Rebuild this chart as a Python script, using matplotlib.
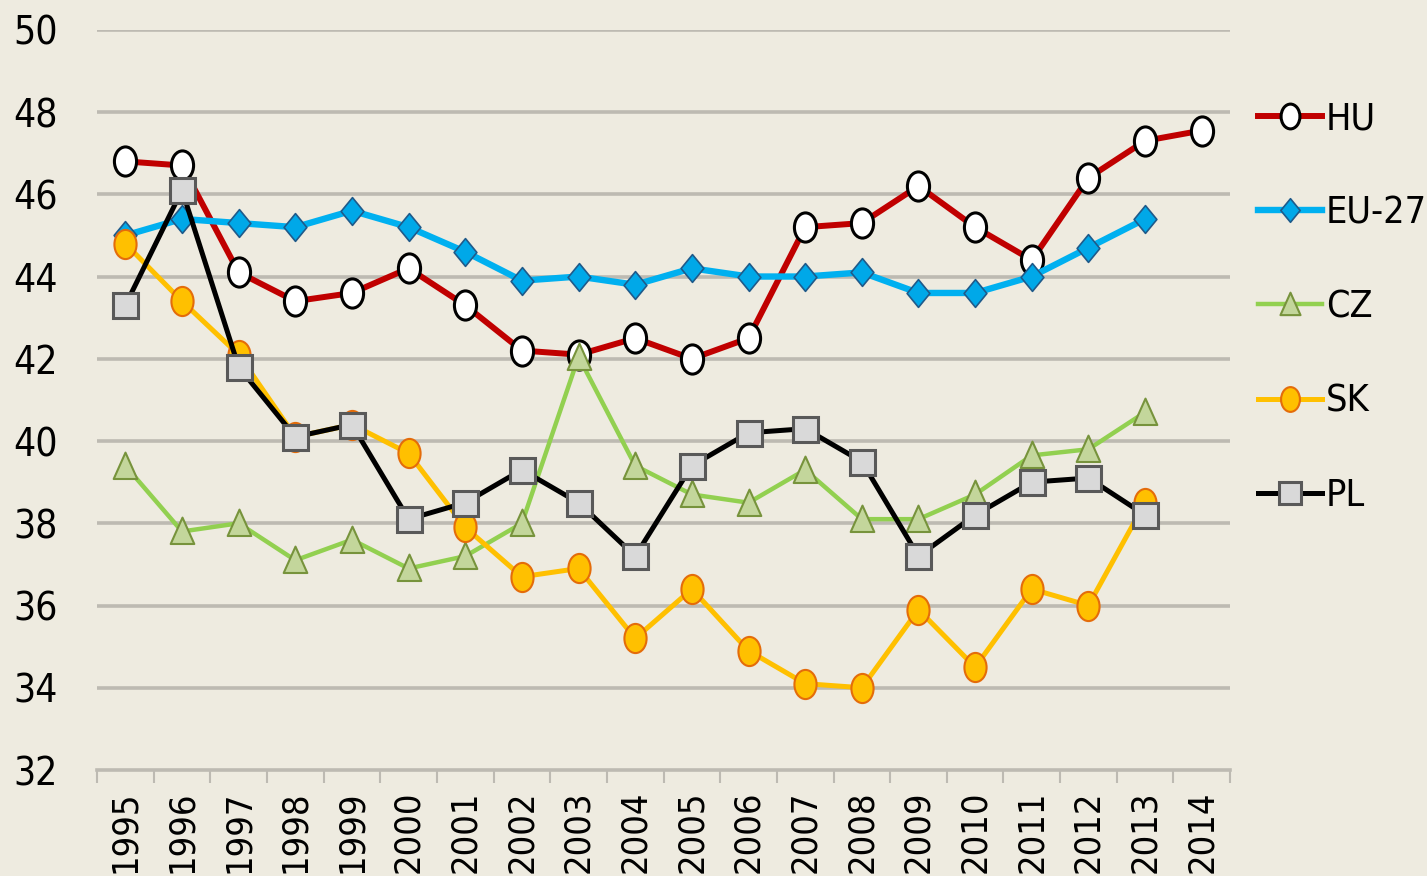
import matplotlib
matplotlib.use("Agg")
import matplotlib.pyplot as plt
from matplotlib.path import Path
from matplotlib.transforms import Affine2D
from matplotlib.ticker import FixedLocator

years = [str(y) for y in range(1995, 2015)]
hu = [46.8, 46.7, 44.1, 43.4, 43.6, 44.2, 43.3, 42.2, 42.1, 42.5, 42.0, 42.5, 45.2, 45.3, 46.2, 45.2, 44.4, 46.4, 47.3, 47.55]
eu27 = [45.0, 45.4, 45.3, 45.2, 45.6, 45.2, 44.6, 43.9, 44.0, 43.8, 44.2, 44.0, 44.0, 44.1, 43.6, 43.6, 44.0, 44.7, 45.4, None]
cz = [39.4, 37.8, 38.0, 37.1, 37.6, 36.9, 37.2, 38.0, 42.05, 39.4, 38.7, 38.5, 39.3, 38.1, 38.1, 38.7, 39.65, 39.8, 40.7, None]
sk = [44.8, 43.4, 42.1, 40.1, 40.4, 39.7, 37.9, 36.7, 36.9, 35.2, 36.4, 34.9, 34.1, 34.0, 35.9, 34.5, 36.4, 36.0, 38.5, None]
pl = [43.3, 46.1, 41.8, 40.1, 40.4, 38.1, 38.5, 39.3, 38.5, 37.2, 39.4, 40.2, 40.3, 39.5, 37.2, 38.2, 39.0, 39.1, 38.2, None]
yticks = [32, 34, 36, 38, 40, 42, 44, 46, 48, 50]

def nan(v):
    return [float('nan') if x is None else x for x in v]

bg = '#EEEBE0'
grid_c = '#BDBAB2'
plt.rcParams['font.family'] = ['DejaVu Sans']
plt.rcParams['font.stretch'] = 'condensed'

ell = Path.unit_circle().transformed(Affine2D().scale(0.76, 1.0))
dia = Path([(0, 1), (0.82, 0), (0, -1), (-0.82, 0), (0, 1)], [1, 2, 2, 2, 79])
tri = Path([(0, 1), (0.85, -0.9), (-0.85, -0.9), (0, 1)], [1, 2, 2, 79])

fig = plt.figure(figsize=(14.27, 8.76), dpi=100, facecolor=bg)
ax = fig.add_axes([0.068, 0.121, 0.794, 0.845], facecolor=bg)

x = list(range(len(years)))
series = [
    ('HU', hu, dict(color='#C00000', lw=4.3, marker=ell, ms=21, mfc='white', mec='black', mew=2.2)),
    ('EU-27', eu27, dict(color='#00B0F0', lw=4.6, marker=dia, ms=20, mfc='#00A8E8', mec='#1F5A8A', mew=1.2)),
    ('CZ', cz, dict(color='#92D050', lw=3.2, marker=tri, ms=20, mfc='#C3D69B', mec='#77933C', mew=1.5)),
    ('SK', sk, dict(color='#FFC000', lw=3.6, marker=ell, ms=21, mfc='#FFC000', mec='#E46C0A', mew=1.5)),
    ('PL', pl, dict(color='black', lw=3.6, marker='s', ms=18, mfc='#D9D9D9', mec='#595959', mew=2.2)),
]
for name, vals, st in series:
    ax.plot(x, nan(vals), label=name, **st)

ax.set_xlim(-0.5, len(years) - 0.5)
ax.set_ylim(32, 50)
ax.set_yticks(yticks)
ax.set_yticklabels([str(v) for v in yticks])
for v in yticks[1:]:
    ax.axhline(v, color=grid_c, lw=2.6, zorder=0)

ax.xaxis.set_major_locator(FixedLocator([i - 0.5 for i in range(len(years) + 1)]))
ax.xaxis.set_minor_locator(FixedLocator(x))
ax.set_xticklabels([], minor=False)
ax.set_xticklabels(years, minor=True, rotation=90, va='top', ha='center')
ax.tick_params(axis='x', which='major', length=9, width=1.5, color=grid_c, direction='out')
ax.tick_params(axis='x', which='minor', length=0, pad=15, labelsize=26)
ax.tick_params(axis='y', length=0, pad=28, labelsize=28)

for s in ['left', 'right', 'top']:
    ax.spines[s].set_visible(False)
ax.spines['bottom'].set_color(grid_c)
ax.spines['bottom'].set_linewidth(2.6)

leg = ax.legend(loc='upper left', bbox_to_anchor=(0.995, 0.949), frameon=False,
                fontsize=27, numpoints=1, handlelength=1.7, handletextpad=0.1,
                labelspacing=1.55, markerscale=0.85)

fig.savefig('out.png', dpi=100, facecolor=bg)
